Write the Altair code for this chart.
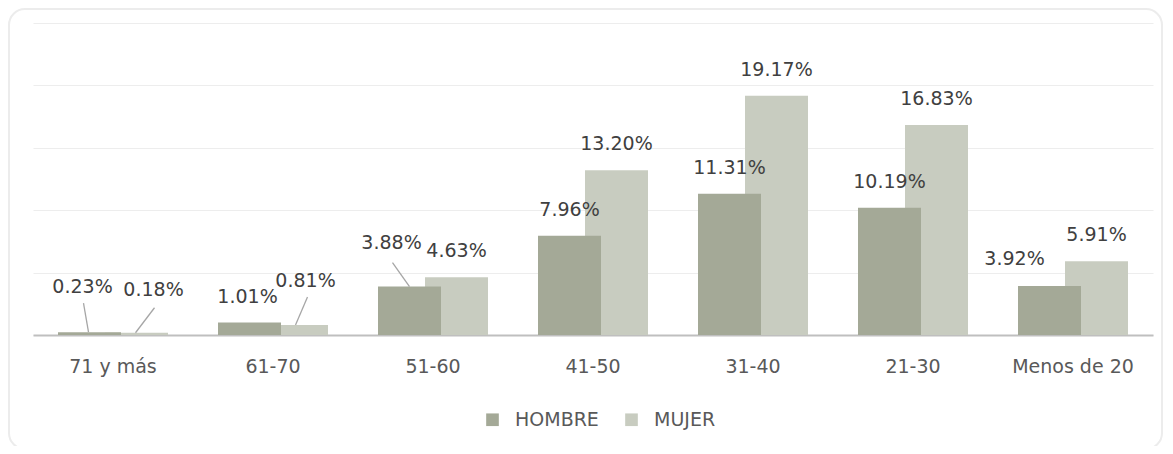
import altair as alt
import pandas as pd

# ---- data ----
categories = ["71 y más", "61-70", "51-60", "41-50", "31-40", "21-30", "Menos de 20"]
series = ["HOMBRE", "MUJER"]
hombre = [0.23, 1.01, 3.88, 7.96, 11.31, 10.19, 3.92]
mujer = [0.18, 0.81, 4.63, 13.20, 19.17, 16.83, 5.91]

rows = []
for c, h, m in zip(categories, hombre, mujer):
    rows.append({"grupo": c, "sexo": "HOMBRE", "valor": h})
    rows.append({"grupo": c, "sexo": "MUJER", "valor": m})
df = pd.DataFrame(rows)
df["key"] = df["grupo"] + "|" + df["sexo"]

# ---- styles ----
FONT = "DejaVu Sans"
COLORS = ["#a4a997", "#c8ccc0"]
BAR_OFF = {"HOMBRE": -23.5, "MUJER": 23.5}
BAR_W = 63
DEFAULT_LABEL = (0, -26)
LABEL_ADJ = {
    "71 y más|HOMBRE": (-7, -45),
    "71 y más|MUJER": (17, -43),
    "61-70|HOMBRE": (-2, -25),
    "61-70|MUJER": (9, -44),
    "51-60|HOMBRE": (-18, -44),
    "Menos de 20|HOMBRE": (-35, -27),
}
LEADERS = {
    "71 y más|HOMBRE": (-6, -29, -1, 0),
    "71 y más|MUJER": (18, -25, -1, 0),
    "61-70|MUJER": (11, -28, -1, 0),
    "51-60|HOMBRE": (-17, -24, 0, 0),
}

base = alt.Chart(df)

x_enc = alt.X(
    "grupo:N",
    sort=categories,
    scale=alt.Scale(paddingInner=0, paddingOuter=0),
    axis=alt.Axis(
        title=None, labelAngle=0, ticks=False, tickSize=0, labelPadding=22,
        labelFont=FONT, labelFontSize=19, labelColor="#595959",
        domainColor="#bfbfbf", domainWidth=2, grid=False,
    ),
)
y_enc = alt.Y(
    "valor:Q",
    scale=alt.Scale(domain=[0, 25], nice=False),
    axis=alt.Axis(
        title=None, labels=False, ticks=False, domain=False,
        grid=True, gridColor="#ededed", gridWidth=1, values=[0, 5, 10, 15, 20, 25],
    ),
)
color_enc = alt.Color(
    "sexo:N",
    scale=alt.Scale(domain=series, range=COLORS),
    legend=alt.Legend(
        title=None, orient="none", direction="horizontal",
        legendX=450, legendY=387, padding=0,
        symbolType="square", symbolSize=160, symbolStrokeWidth=0,
        labelFont=FONT, labelFontSize=19, labelColor="#595959",
        labelOffset=13, columnPadding=23,
    ),
)

layers = []

# card frame (decoration only)
layers.append(
    base.mark_rect(fill="white", fillOpacity=0, stroke="#ececec", strokeWidth=2, cornerRadius=16)
    .encode(x=alt.value(-24), x2=alt.value(1129), y=alt.value(-14), y2=alt.value(426))
    .transform_filter("datum.key == '71 y más|HOMBRE'")
)

# bars: MUJER first, HOMBRE on top
for s in ["MUJER", "HOMBRE"]:
    layers.append(
        base.transform_filter(alt.datum.sexo == s)
        .mark_bar(width=BAR_W, xOffset=BAR_OFF[s])
        .encode(x=x_enc, y=y_enc, color=color_enc)
    )

# leader lines
for key, (x1, y1, x2, y2) in LEADERS.items():
    s = key.split("|")[1]
    layers.append(
        base.transform_filter(alt.datum.key == key)
        .mark_rule(color="#a6a6a6", strokeWidth=1.3,
                   xOffset=BAR_OFF[s] + x1, x2Offset=BAR_OFF[s] + x2,
                   yOffset=y1, y2Offset=y2)
        .encode(x=alt.X("grupo:N", sort=categories), x2=alt.X2("grupo"),
                y=alt.Y("valor:Q"), y2=alt.Y2("valor"))
    )

# labels
text_kw = dict(font=FONT, fontSize=19, color="#404040", align="center", baseline="middle")
special = list(LABEL_ADJ.keys())
for s in series:
    layers.append(
        base.transform_filter(alt.datum.sexo == s)
        .transform_filter(~alt.FieldOneOfPredicate(field="key", oneOf=special))
        .transform_calculate(label="format(datum.valor, '.2f') + '%'")
        .mark_text(dx=BAR_OFF[s] + DEFAULT_LABEL[0], dy=DEFAULT_LABEL[1], **text_kw)
        .encode(x=alt.X("grupo:N", sort=categories), y=alt.Y("valor:Q"), text="label:N")
    )
for key, (dx, dy) in LABEL_ADJ.items():
    s = key.split("|")[1]
    layers.append(
        base.transform_filter(alt.datum.key == key)
        .transform_calculate(label="format(datum.valor, '.2f') + '%'")
        .mark_text(dx=BAR_OFF[s] + dx, dy=dy, **text_kw)
        .encode(x=alt.X("grupo:N", sort=categories), y=alt.Y("valor:Q"), text="label:N")
    )

chart = (
    alt.layer(*layers)
    .properties(
        width=1120, height=312,
        autosize=alt.AutoSizeParams(type="none"),
        padding={"left": 25, "top": 15, "right": 12, "bottom": 111},
        background="white",
    )
    .configure_view(stroke=None)
)

chart.save("out.html", embed_options={"renderer": "svg", "actions": False})
